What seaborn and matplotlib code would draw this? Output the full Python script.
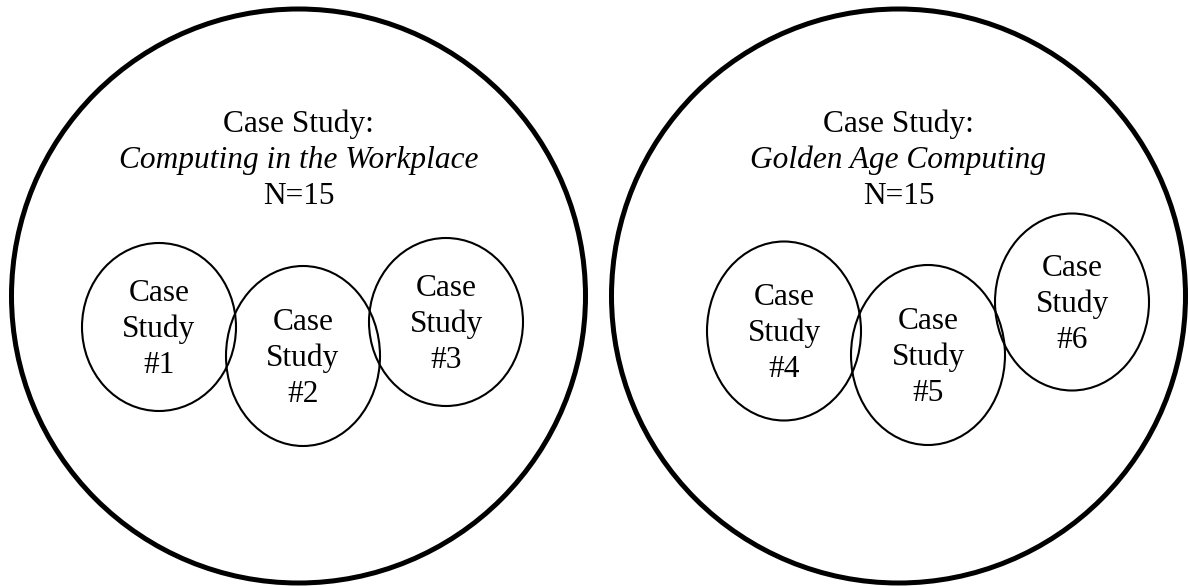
import matplotlib
matplotlib.use("Agg")
import matplotlib.pyplot as plt
from matplotlib.patches import Ellipse
import seaborn as sns

# ─── Data ────────────────────────────────────────────────────────────────────

GROUP_TITLES = ["Computing in the Workplace", "Golden Age Computing"]
GROUP_N = [15, 15]
GROUP_CX = [298.5, 898.5]
GROUP_CY = [296, 296]
GROUP_R = [287, 287]

CASE_LABELS = ["#1", "#2", "#3", "#4", "#5", "#6"]
CASE_CX = [159, 303, 446, 784, 928, 1072]
CASE_CY = [327, 356, 322, 331, 355, 302]
CASE_W = [154, 154, 154, 154, 154, 154]
CASE_H = [168, 180, 168, 179, 180, 177]

# ─── Plot ────────────────────────────────────────────────────────────────────

sns.set_theme(style="white")
plt.rcParams["font.family"] = ["Liberation Serif", "DejaVu Serif"]

W, H = 1189, 586
fig = plt.figure(figsize=(W / 100, H / 100), dpi=100)
ax = fig.add_axes([0, 0, 1, 1])
ax.set_xlim(0, W)
ax.set_ylim(H, 0)
ax.axis("off")

FS = 22.6
LINE = 36

for title, n, cx, cy, r in zip(GROUP_TITLES, GROUP_N, GROUP_CX, GROUP_CY, GROUP_R):
    ax.add_patch(Ellipse((cx, cy), 2 * r, 2 * r, fill=False,
                         edgecolor="black", linewidth=3.6))
    ax.text(cx, 132, "Case Study:", ha="center", va="baseline", fontsize=FS,
            color="black")
    ax.text(cx, 168, title, ha="center", va="baseline", fontsize=FS,
            style="italic", color="black")
    ax.text(cx, 203.5, "N={}".format(n), ha="center", va="baseline",
            fontsize=FS, color="black")

for lab, cx, cy, w, h in zip(CASE_LABELS, CASE_CX, CASE_CY, CASE_W, CASE_H):
    ax.add_patch(Ellipse((cx, cy), w, h, fill=False, edgecolor="black",
                         linewidth=1.5))
    for k, line in enumerate(["Case", "Study", lab]):
        ax.text(cx, cy + 10 + (k - 1) * LINE, line, ha="center",
                va="baseline", fontsize=FS, color="black")

fig.savefig("out.png", dpi=100)
plt.close(fig)
